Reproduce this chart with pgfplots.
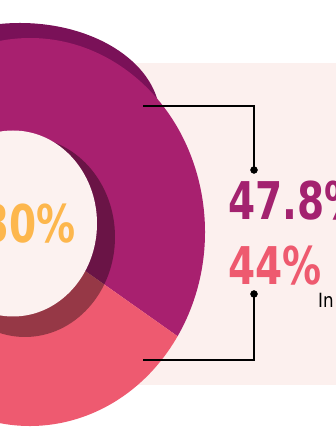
\documentclass[border=0pt]{standalone}
\usepackage{pgfplots}
\pgfplotsset{compat=1.18}
\usepackage{pgfplotstable}
\usepackage{graphicx}
\usepackage{fontspec}
\setmainfont{DejaVu Sans}

\definecolor{ringpurple}{HTML}{A8206F}
\definecolor{ringpink}{HTML}{EE5A70}
\definecolor{ringdark}{HTML}{7A1158}
\definecolor{ringother}{HTML}{FDB74D}
\definecolor{bgpink}{HTML}{FCF0EE}
\definecolor{holepink}{HTML}{FCF2F0}
\definecolor{txtorange}{HTML}{FDB74D}
\definecolor{txtpurple}{HTML}{A3226F}
\definecolor{txtpink}{HTML}{EE5A6F}

% shares of the outer ring (percent)
\pgfplotstableread{
segment share
purple 47.8
pink 44.0
other 8.2
}\ringdata

\newcommand\bignum[1]{\scalebox{0.75}[1]{\fontsize{52bp}{52bp}\selectfont\bfseries #1}}

\begin{document}
\begin{tikzpicture}
\useasboundingbox (0,0) rectangle (336bp,448bp);
\clip (0,0) rectangle (336bp,448bp);
\pgfplotstablegetelem{0}{share}\of\ringdata
\pgfmathsetmacro\angP{3.6*\pgfplotsretval}
\pgfplotstablegetelem{1}{share}\of\ringdata
\pgfmathsetmacro\angK{3.6*\pgfplotsretval}
\pgfplotstablegetelem{2}{share}\of\ringdata
\pgfmathsetmacro\angO{3.6*\pgfplotsretval}
\pgfmathsetmacro\tstart{-32.5}
\pgfmathsetmacro\tP{\tstart+\angP}
\pgfmathsetmacro\tK{\tstart-\angK}
\pgfmathsetmacro\tO{\tP+\angO}
\begin{axis}[
  at={(0,0)}, anchor=south west,
  scale only axis, width=336bp, height=448bp,
  xmin=0, xmax=336, ymin=0, ymax=448,
  hide axis, clip=false]
% light background panel
\fill[bgpink] (axis cs:0,63) rectangle (axis cs:336,385);
% dark back crescent
\fill[ringdark] (axis cs:20,330) ellipse[x radius=140bp, y radius=95bp];
% outer ring segments
\fill[ringpurple] (axis cs:30,216) -- ++(\tstart:175bp and 194bp)
   arc[start angle=\tstart, end angle=\tP, x radius=175bp, y radius=194bp] -- cycle;
\fill[ringpink] (axis cs:30,216) -- ++(\tstart:175bp and 194bp)
   arc[start angle=\tstart, end angle=\tK, x radius=175bp, y radius=194bp] -- cycle;
\fill[ringother] (axis cs:30,216) -- ++(\tP:175bp and 194bp)
   arc[start angle=\tP, end angle=\tO, x radius=175bp, y radius=194bp] -- cycle;
% inner shadow and hole
\fill[black, opacity=0.37] (axis cs:25,211) ellipse[x radius=90bp, y radius=100bp];
\fill[holepink] (axis cs:13,224.5) ellipse[x radius=84bp, y radius=93bp];
% brackets
\addplot[black, line width=2.3bp, mark=none] coordinates {(143,342) (254,342) (254,278)};
\addplot[black, line width=2.3bp, mark=none] coordinates {(254,154) (254,88) (143,88)};
\addplot[black, only marks, mark=*, mark size=3.5bp] coordinates {(254,278) (254,154)};
% texts
\node[anchor=base east, inner sep=0, text=txtorange] at (axis cs:76,205) {\bignum{30\%}};
\node[anchor=base west, inner sep=0, text=txtpurple] at (axis cs:228,228) {\bignum{47.8\%}};
\node[anchor=base west, inner sep=0, text=txtpink] at (axis cs:228,163) {\bignum{44\%}};
\node[anchor=base west, inner sep=0, text=black] at (axis cs:318,140)
  {\scalebox{0.85}[1]{\fontsize{19.6bp}{19.6bp}\selectfont In}};
\end{axis}
\end{tikzpicture}
\end{document}
